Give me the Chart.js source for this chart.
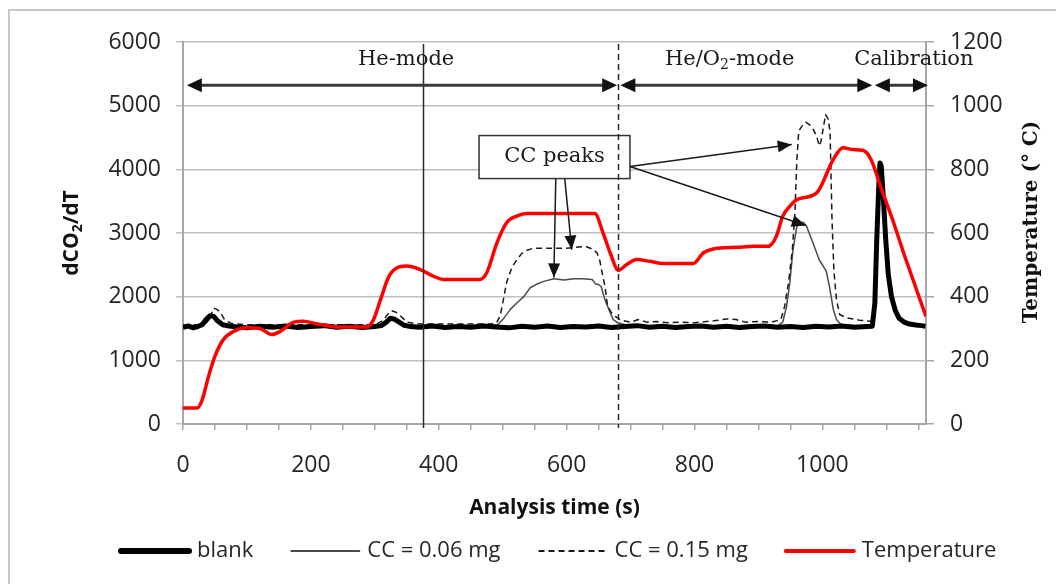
<!DOCTYPE html>
<html>
<head>
<meta charset="utf-8">
<title>dCO2/dT and temperature vs analysis time</title>
<script src="https://cdn.jsdelivr.net/npm/chart.js@4.4.1/dist/chart.umd.min.js"></script>
<style>
  html, body { margin: 0; padding: 0; background: #fff; }
  #wrap { width: 1056px; height: 584px; }
</style>
</head>
<body>
<div id="wrap"><canvas id="chart" width="1056" height="584"></canvas></div>
<script>
// --- data ---
const blankTime = [0,8,16,24,30,36,42,48,54,62,72,85,100,120,140,160,180,200,220,240,260,280,300,310,318,324,330,338,346,356,370,390,410,430,450,470,490,510,530,550,570,590,610,630,650,670,690,710,730,750,770,790,810,830,850,870,890,910,930,950,970,990,1010,1030,1050,1070,1078,1082,1085,1088,1090,1092,1095,1099,1103,1108,1114,1120,1128,1136,1146,1155,1161];
const blankVal = [1520,1540,1510,1535,1560,1640,1700,1690,1620,1560,1540,1525,1510,1535,1520,1540,1515,1530,1545,1520,1535,1515,1530,1545,1600,1660,1650,1600,1550,1530,1520,1540,1515,1530,1520,1540,1525,1510,1535,1520,1540,1515,1530,1525,1540,1515,1530,1545,1520,1535,1515,1530,1540,1520,1535,1515,1530,1540,1520,1530,1515,1535,1525,1540,1520,1530,1535,1900,2900,3700,4100,4050,3600,2900,2350,2000,1780,1660,1600,1570,1555,1545,1535];

const cc006Time = [0,30,38,45,52,60,75,100,300,315,325,335,345,360,480,492,500,512,522,533,543,554,564,580,596,611,625,640,645,650,654,657,660,664,668,673,680,691,710,930,938,944,949,954,960,964,970,975,985,995,1006,1011,1017,1022,1030,1080];
const cc006Val = [1530,1540,1600,1690,1660,1580,1540,1530,1530,1580,1660,1620,1560,1530,1530,1560,1640,1800,1900,2000,2140,2200,2240,2280,2260,2280,2280,2270,2200,2190,2160,2050,1950,1850,1750,1640,1590,1560,1540,1540,1600,1850,2220,2740,3100,3150,3170,3110,2850,2580,2400,2160,1800,1640,1550,1540];

const cc015Time = [0,30,38,44,48,53,58,65,75,100,200,300,312,320,326,332,340,350,370,480,490,496,501,506,514,522,530,538,548,570,600,630,642,648,652,656,660,664,670,676,685,700,712,725,740,760,780,800,830,850,865,880,900,920,935,941,947,953,957,960,963,968,974,980,986,991,995,998,1001,1005,1009,1012,1015,1018,1022,1027,1037,1058,1079];
const cc015Val = [1550,1560,1620,1720,1820,1800,1760,1640,1580,1560,1560,1560,1620,1720,1780,1760,1700,1600,1570,1570,1580,1700,1950,2220,2450,2580,2680,2730,2760,2760,2760,2790,2740,2680,2560,2350,2160,1850,1750,1690,1630,1600,1640,1600,1610,1590,1600,1590,1620,1650,1640,1600,1610,1600,1640,1850,2220,2740,3320,4150,4600,4680,4740,4700,4620,4520,4370,4450,4630,4860,4790,4580,3210,2400,1950,1720,1670,1630,1610];

const tempTime = [0,22,30,40,50,63,79,100,121,139,152,173,188,209,241,287,298,309,321,334,350,371,392,407,464,475,491,506,522,538,621,644,657,668,681,694,709,730,751,798,814,829,866,892,915,928,938,949,960,991,1017,1032,1048,1063,1076,1092,1110,1130,1162];
const tempVal = [50,50,76,150,213,265,291,302,299,281,291,320,323,315,305,305,328,391,459,490,496,485,464,454,454,475,569,632,653,661,661,661,600,538,483,501,517,511,504,504,538,550,555,558,558,590,653,684,705,726,831,868,862,860,831,740,640,520,338];

const seriesNames = ['blank', 'CC = 0.06 mg', 'CC = 0.15 mg', 'Temperature'];

// annotations, in data units (time s, dCO2/dT)
const modeLines = [{ time: 375, dash: [] }, { time: 680, dash: [6, 4] }];
const phaseArrowLevel = 5320;
const phaseArrows = [[6, 679], [684, 1078], [1082, 1165]];
const phaseLabels = [
  { parts: [{ text: 'He-mode' }], time: 349, level: 5730 },
  { parts: [{ text: 'He/O' }, { text: '2', sub: true }, { text: '-mode' }], time: 855, level: 5730 },
  { parts: [{ text: 'Calibration' }], time: 1143, level: 5730 }
];
const peakBox = { t0: 463, t1: 699, v0: 3855, v1: 4531, label: 'CC peaks' };
const peakArrows = [
  [583, 3855, 580, 2302],
  [597, 3855, 608, 2739],
  [699, 4044, 952, 4390],
  [699, 4044, 974, 3117]
];

const SANS = '"Open Sans", sans-serif';
const SERIF = '"DejaVu Serif", serif';
const TEXT = '#262626';

function toPoints(xs, ys) {
  return xs.map((x, i) => ({ x: x, y: ys[i] }));
}

function arrowHead(ctx, x0, y0, x1, y1, len, half) {
  const a = Math.atan2(y1 - y0, x1 - x0);
  const c = Math.cos(a), s = Math.sin(a);
  ctx.beginPath();
  ctx.moveTo(x1, y1);
  ctx.lineTo(x1 - len * c + half * s, y1 - len * s - half * c);
  ctx.lineTo(x1 - len * c - half * s, y1 - len * s + half * c);
  ctx.closePath();
  ctx.fill();
}

// text with optional subscript pieces, centred on (cx, cy)
function drawParts(ctx, parts, cx, cy, font, subFont, angle) {
  ctx.save();
  ctx.translate(cx, cy);
  ctx.rotate(angle || 0);
  ctx.textAlign = 'left';
  ctx.textBaseline = 'middle';
  let total = 0;
  parts.forEach(p => {
    ctx.font = p.sub ? subFont : font;
    total += ctx.measureText(p.text).width;
  });
  let px = -total / 2;
  parts.forEach(p => {
    ctx.font = p.sub ? subFont : font;
    ctx.fillText(p.text, px, p.sub ? 6 : 0);
    px += ctx.measureText(p.text).width;
  });
  ctx.restore();
}

const annotationPlugin = {
  id: 'annotations',
  afterDatasetsDraw(chart) {
    const { ctx, chartArea, scales: { x, y } } = chart;
    ctx.save();

    // CC peaks callout box
    const bx0 = x.getPixelForValue(peakBox.t0), bx1 = x.getPixelForValue(peakBox.t1);
    const by0 = y.getPixelForValue(peakBox.v1), by1 = y.getPixelForValue(peakBox.v0);
    ctx.fillStyle = '#fff';
    ctx.fillRect(bx0, by0, bx1 - bx0, by1 - by0);
    ctx.strokeStyle = '#333';
    ctx.lineWidth = 1.5;
    ctx.strokeRect(bx0, by0, bx1 - bx0, by1 - by0);
    ctx.fillStyle = '#1a1a1a';
    ctx.font = '21px ' + SERIF;
    ctx.textAlign = 'center';
    ctx.textBaseline = 'middle';
    ctx.fillText(peakBox.label, (bx0 + bx1) / 2, (by0 + by1) / 2);

    // mode separators
    modeLines.forEach(m => {
      const px = Math.round(x.getPixelForValue(m.time)) + 0.5;
      ctx.strokeStyle = '#2b2b2b';
      ctx.lineWidth = 1.5;
      ctx.setLineDash(m.dash);
      ctx.beginPath();
      ctx.moveTo(px, y.getPixelForValue(5970));
      ctx.lineTo(px, chartArea.bottom + 4);
      ctx.stroke();
    });
    ctx.setLineDash([]);

    // phase arrows
    const ay = y.getPixelForValue(phaseArrowLevel);
    phaseArrows.forEach(([t0, t1]) => {
      const p0 = x.getPixelForValue(t0), p1 = x.getPixelForValue(t1);
      ctx.strokeStyle = '#3a3a3a';
      ctx.lineWidth = 3;
      ctx.beginPath();
      ctx.moveTo(p0 + 8, ay);
      ctx.lineTo(p1 - 8, ay);
      ctx.stroke();
      ctx.fillStyle = '#111';
      arrowHead(ctx, p1, ay, p0, ay, 15, 7);
      arrowHead(ctx, p0, ay, p1, ay, 15, 7);
    });

    // phase labels
    ctx.fillStyle = '#1a1a1a';
    phaseLabels.forEach(l => {
      drawParts(ctx, l.parts, x.getPixelForValue(l.time), y.getPixelForValue(l.level),
        '21px ' + SERIF, '14px ' + SERIF, 0);
    });

    // callout arrows
    ctx.strokeStyle = '#1a1a1a';
    ctx.fillStyle = '#111';
    ctx.lineWidth = 1.5;
    peakArrows.forEach(([t0, v0, t1, v1]) => {
      const x0 = x.getPixelForValue(t0), y0 = y.getPixelForValue(v0);
      const x1 = x.getPixelForValue(t1), y1 = y.getPixelForValue(v1);
      ctx.beginPath();
      ctx.moveTo(x0, y0);
      ctx.lineTo(x1, y1);
      ctx.stroke();
      arrowHead(ctx, x0, y0, x1, y1, 14, 6);
    });
    ctx.restore();
  },
  afterDraw(chart) {
    const { ctx, chartArea } = chart;
    ctx.save();

    // outer frame
    ctx.strokeStyle = '#c8c8c8';
    ctx.lineWidth = 2;
    ctx.beginPath();
    ctx.moveTo(9, 600);
    ctx.lineTo(9, 10);
    ctx.lineTo(1060, 10);
    ctx.stroke();

    // axis titles
    ctx.fillStyle = '#111';
    const midY = (chartArea.top + chartArea.bottom) / 2;
    drawParts(ctx, [{ text: 'Analysis time (s)' }], (chartArea.left + chartArea.right) / 2, 508,
      'bold 21px ' + SANS, 'bold 14px ' + SANS, 0);
    drawParts(ctx, [{ text: 'dCO' }, { text: '2', sub: true }, { text: '/dT' }], 72, midY,
      'bold 21px ' + SANS, 'bold 14px ' + SANS, -Math.PI / 2);
    drawParts(ctx, [{ text: 'Temperature (° C)' }], 1032, midY - 11,
      'bold 20px ' + SERIF, 'bold 14px ' + SERIF, -Math.PI / 2);

    // legend
    const ly = 551;
    let lx = 121;
    ctx.font = '22px ' + SANS;
    ctx.textAlign = 'left';
    ctx.textBaseline = 'middle';
    chart.data.datasets.forEach(ds => {
      ctx.strokeStyle = ds.borderColor;
      ctx.lineWidth = ds.legendWidth;
      ctx.setLineDash(ds.borderDash || []);
      ctx.lineCap = ds.borderDash ? 'butt' : 'round';
      ctx.beginPath();
      ctx.moveTo(lx, ly);
      ctx.lineTo(lx + 68, ly);
      ctx.stroke();
      ctx.setLineDash([]);
      ctx.fillStyle = TEXT;
      ctx.fillText(ds.label, lx + 76, ly);
      lx += 76 + ctx.measureText(ds.label).width + 38;
    });
    ctx.restore();
  }
};

const plainNumber = v => String(v);

new Chart(document.getElementById('chart'), {
  type: 'line',
  data: {
    datasets: [{
      label: seriesNames[0],
      data: toPoints(blankTime, blankVal),
      borderColor: '#000',
      borderWidth: 5,
      legendWidth: 6,
      yAxisID: 'y',
      order: 1
    }, {
      label: seriesNames[1],
      data: toPoints(cc006Time, cc006Val),
      borderColor: '#4a4a4a',
      borderWidth: 1.5,
      legendWidth: 2,
      yAxisID: 'y',
      order: 3
    }, {
      label: seriesNames[2],
      data: toPoints(cc015Time, cc015Val),
      borderColor: '#1a1a1a',
      borderWidth: 1.5,
      borderDash: [6, 4],
      legendWidth: 2,
      yAxisID: 'y',
      order: 2
    }, {
      label: seriesNames[3],
      data: toPoints(tempTime, tempVal),
      borderColor: '#ff0000',
      borderWidth: 3.5,
      legendWidth: 4,
      cubicInterpolationMode: 'monotone',
      yAxisID: 'y2',
      order: 0
    }]
  },
  options: {
    responsive: false,
    devicePixelRatio: 1,
    animation: false,
    layout: { padding: { top: 42, left: 0, right: 0, bottom: 0 } },
    elements: {
      point: { radius: 0 },
      line: { borderJoinStyle: 'round', fill: false }
    },
    plugins: {
      legend: { display: false },
      tooltip: { enabled: false }
    },
    scales: {
      x: {
        type: 'linear',
        min: 0,
        max: 1162,
        afterFit: s => { s.height = 160; },
        ticks: {
          stepSize: 50,
          autoSkip: false,
          maxRotation: 0,
          includeBounds: false,
          padding: 22,
          color: TEXT,
          font: { family: SANS, size: 23 },
          callback: v => (v % 200 === 0 ? String(v) : '')
        },
        grid: { drawOnChartArea: false, drawTicks: true, tickLength: 6, color: '#a6a6a6', lineWidth: 1.5 },
        border: { color: '#a6a6a6', width: 2 }
      },
      y: {
        position: 'left',
        min: 0,
        max: 6000,
        afterFit: s => { s.width = 183; },
        ticks: {
          stepSize: 1000,
          padding: 15,
          color: TEXT,
          font: { family: SANS, size: 23 },
          callback: plainNumber
        },
        grid: { color: '#c0c0c0', lineWidth: 1.5, tickLength: 7 },
        border: { color: '#a6a6a6', width: 2 }
      },
      y2: {
        position: 'right',
        min: 0,
        max: 1200,
        afterFit: s => { s.width = 130; },
        ticks: {
          stepSize: 200,
          padding: 16,
          color: TEXT,
          font: { family: SANS, size: 23 },
          callback: plainNumber
        },
        grid: { drawOnChartArea: false, color: '#a6a6a6', lineWidth: 1.5, tickLength: 8 },
        border: { color: '#a6a6a6', width: 2 }
      }
    }
  },
  plugins: [annotationPlugin]
});
</script>
</body>
</html>
